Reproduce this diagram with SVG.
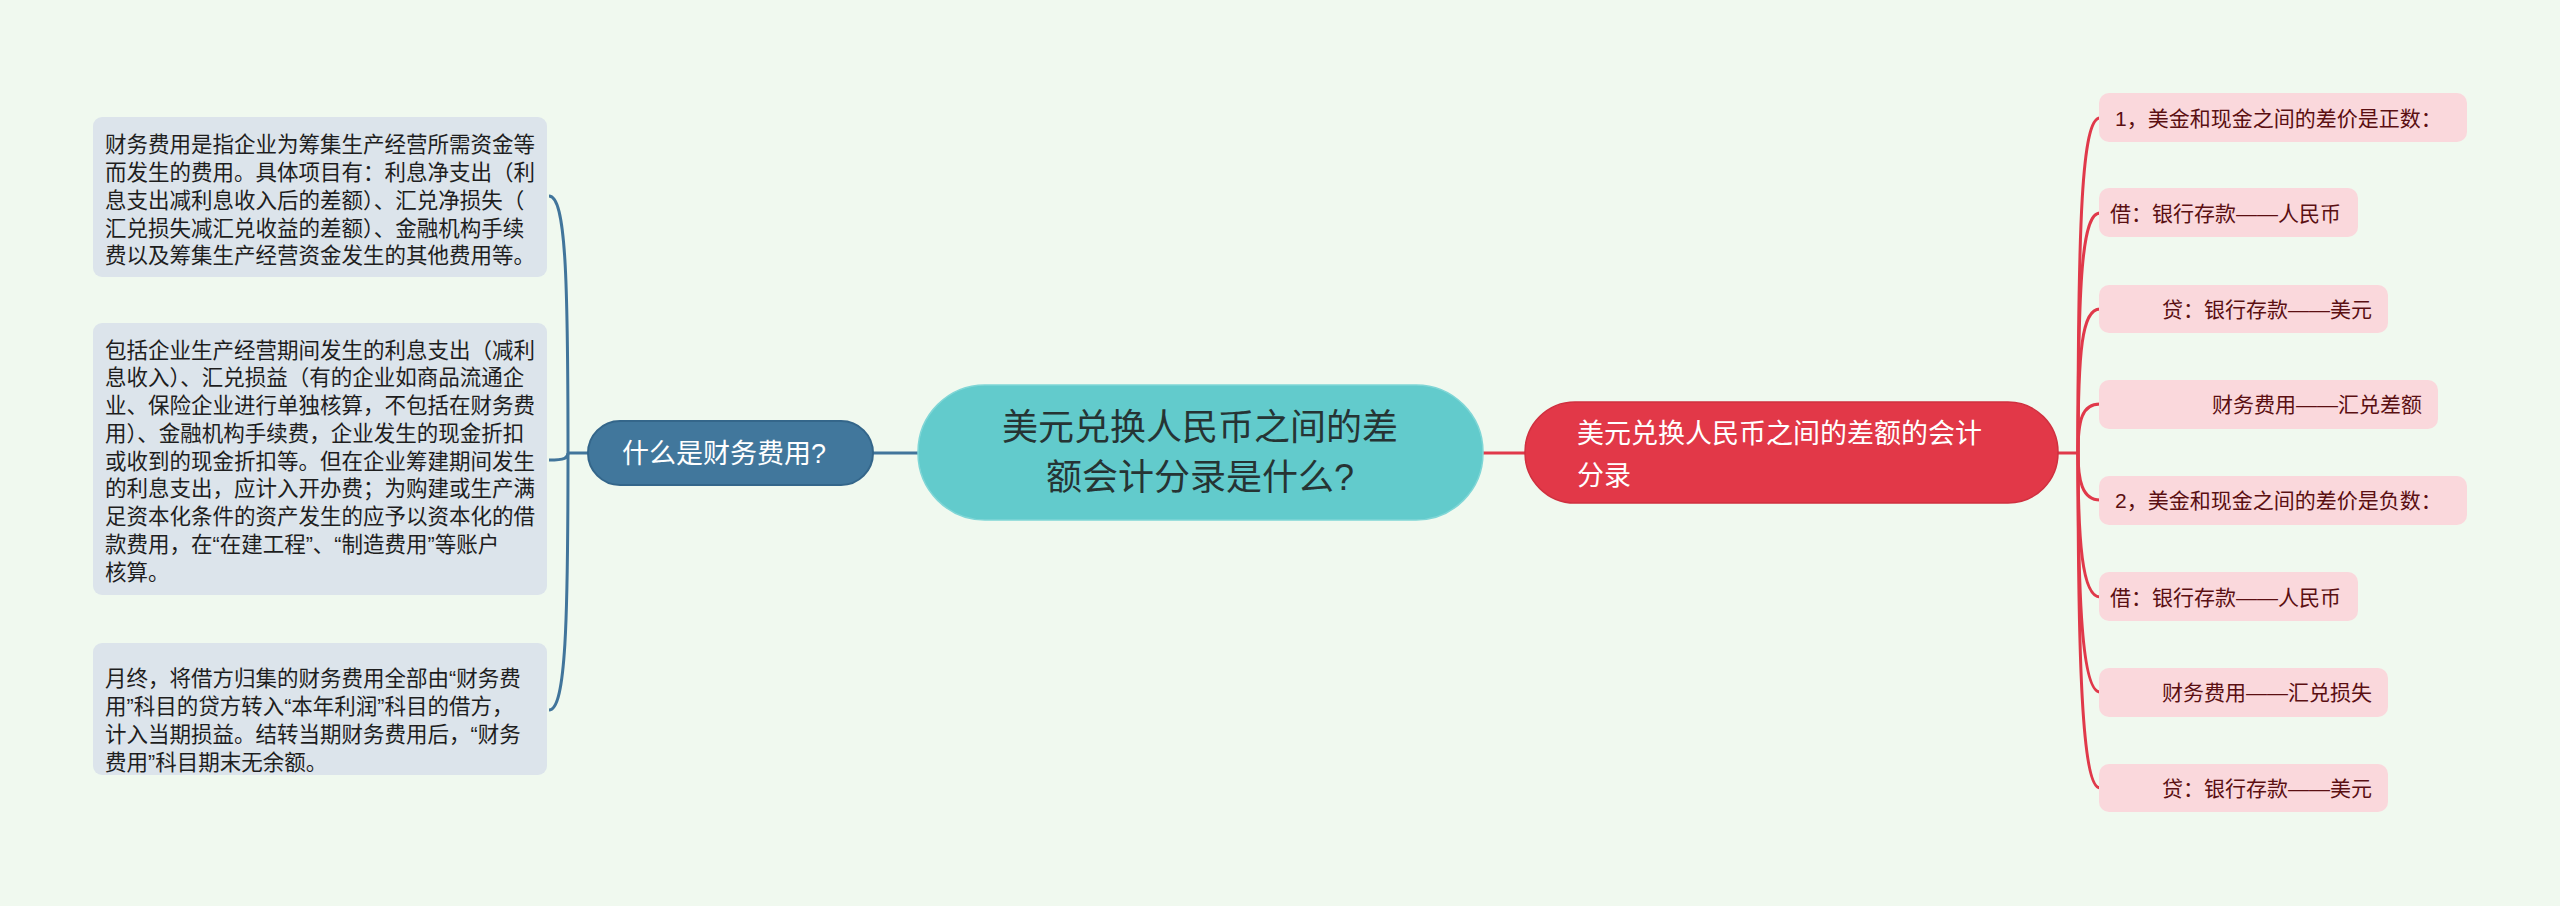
<svg xmlns="http://www.w3.org/2000/svg" width="2560" height="906" viewBox="0 0 2560 906">
<style>
text{font-family:"Liberation Sans","Noto Sans CJK SC",sans-serif;}
.lbox{fill:#dce4eb;}
.ltxt{font-size:21.5px;fill:#1e1e1e;}
.rbox{fill:#fad8dc;}
.rtxt{font-size:21px;fill:#5a0f12;}
.bl{fill:none;stroke:#41759b;stroke-width:3;}
.rd{fill:none;stroke:#e0394a;stroke-width:3;}
</style>
<rect width="2560" height="906" fill="#f0f9ef"/>
<g id="connectors">
<path class="bl" d="M873 453 H918"/>
<path class="bl" d="M588 453 H568"/>
<path class="bl" d="M568 453 C568 280 566 196 549 196"/>
<path class="bl" d="M568 453 C568 458 565 460 549 460"/>
<path class="bl" d="M568 453 C568 620 566 710 549 710"/>
<path class="rd" d="M1483 453 H1525"/>
<path class="rd" d="M2058 453 H2078"/>
<path class="rd" d="M2078 453 C2078 220 2082 118 2100 118"/>
<path class="rd" d="M2078 453 C2078 280 2082 213 2100 213"/>
<path class="rd" d="M2078 453 C2078 350 2082 309 2100 309"/>
<path class="rd" d="M2078 453 C2078 420 2082 404 2100 404"/>
<path class="rd" d="M2078 453 C2078 480 2082 500 2100 500"/>
<path class="rd" d="M2078 453 C2078 540 2082 597 2100 597"/>
<path class="rd" d="M2078 453 C2078 600 2082 692 2100 692"/>
<path class="rd" d="M2078 453 C2078 660 2082 788 2100 788"/>
</g>
<g id="root">
<rect x="918" y="385" width="565" height="135" rx="67" fill="#62cbcc" stroke="#7fd6d6" stroke-width="1.5"/>
<text x="1200" y="440" font-size="36" fill="#263434" text-anchor="middle">美元兑换人民币之间的差</text>
<text x="1200" y="490" font-size="36" fill="#263434" text-anchor="middle">额会计分录是什么?</text>
</g>
<g id="n-what">
<rect x="588" y="421" width="285" height="64" rx="32" fill="#41779c" stroke="#34668a" stroke-width="2"/>
<text x="724" y="463" font-size="27" fill="#ffffff" text-anchor="middle">什么是财务费用?</text>
</g>
<g id="n-red">
<rect x="1525" y="402" width="533" height="101" rx="50" fill="#e23848" stroke="#d0303f" stroke-width="1.5"/>
<text x="1577" y="443" font-size="27" fill="#ffffff">美元兑换人民币之间的差额的会计</text>
<text x="1577" y="485" font-size="27" fill="#ffffff">分录</text>
</g>
<g id="l1">
<rect class="lbox" x="93" y="117" width="454" height="160" rx="9"/>
<text class="ltxt" x="105"><tspan x="105" y="151.5">财务费用是指企业为筹集生产经营所需资金等</tspan><tspan x="105" y="179.5">而发生的费用。具体项目有：利息净支出（利</tspan><tspan x="105" y="207.5">息支出减利息收入后的差额）、汇兑净损失（</tspan><tspan x="105" y="235.5">汇兑损失减汇兑收益的差额）、金融机构手续</tspan><tspan x="105" y="263">费以及筹集生产经营资金发生的其他费用等。</tspan></text>
</g>
<g id="l2">
<rect class="lbox" x="93" y="323" width="454" height="272" rx="9"/>
<text class="ltxt" x="105"><tspan x="105" y="357.5">包括企业生产经营期间发生的利息支出（减利</tspan><tspan x="105" y="385.2">息收入）、汇兑损益（有的企业如商品流通企</tspan><tspan x="105" y="413">业、保险企业进行单独核算，不包括在财务费</tspan><tspan x="105" y="440.7">用）、金融机构手续费，企业发生的现金折扣</tspan><tspan x="105" y="468.5">或收到的现金折扣等。但在企业筹建期间发生</tspan><tspan x="105" y="496.2">的利息支出，应计入开办费；为购建或生产满</tspan><tspan x="105" y="524">足资本化条件的资产发生的应予以资本化的借</tspan><tspan x="105" y="551.7">款费用，在“在建工程”、“制造费用”等账户</tspan><tspan x="105" y="579.5">核算。</tspan></text>
</g>
<g id="l3">
<rect class="lbox" x="93" y="643" width="454" height="132" rx="9"/>
<text class="ltxt" x="105"><tspan x="105" y="685.5">月终，将借方归集的财务费用全部由“财务费</tspan><tspan x="105" y="714">用”科目的贷方转入“本年利润”科目的借方，</tspan><tspan x="105" y="742">计入当期损益。结转当期财务费用后，“财务</tspan><tspan x="105" y="769.5">费用”科目期末无余额。</tspan></text>
</g>
<g id="r1"><rect class="rbox" x="2099" y="93" width="368" height="49" rx="10"/><text class="rtxt" x="2115" y="125.5">1，美金和现金之间的差价是正数：</text></g>
<g id="r2"><rect class="rbox" x="2099" y="188" width="259" height="49" rx="10"/><text class="rtxt" x="2110" y="220.5">借：银行存款——人民币</text></g>
<g id="r3"><rect class="rbox" x="2099" y="285" width="289" height="48" rx="10"/><text class="rtxt" x="2162" y="316.5">贷：银行存款——美元</text></g>
<g id="r4"><rect class="rbox" x="2099" y="380" width="339" height="49" rx="10"/><text class="rtxt" x="2212" y="412">财务费用——汇兑差额</text></g>
<g id="r5"><rect class="rbox" x="2099" y="476" width="368" height="49" rx="10"/><text class="rtxt" x="2115" y="508">2，美金和现金之间的差价是负数：</text></g>
<g id="r6"><rect class="rbox" x="2099" y="572" width="259" height="49" rx="10"/><text class="rtxt" x="2110" y="604.5">借：银行存款——人民币</text></g>
<g id="r7"><rect class="rbox" x="2099" y="668" width="289" height="49" rx="10"/><text class="rtxt" x="2162" y="700">财务费用——汇兑损失</text></g>
<g id="r8"><rect class="rbox" x="2099" y="764" width="289" height="48" rx="10"/><text class="rtxt" x="2162" y="795.5">贷：银行存款——美元</text></g>
</svg>
